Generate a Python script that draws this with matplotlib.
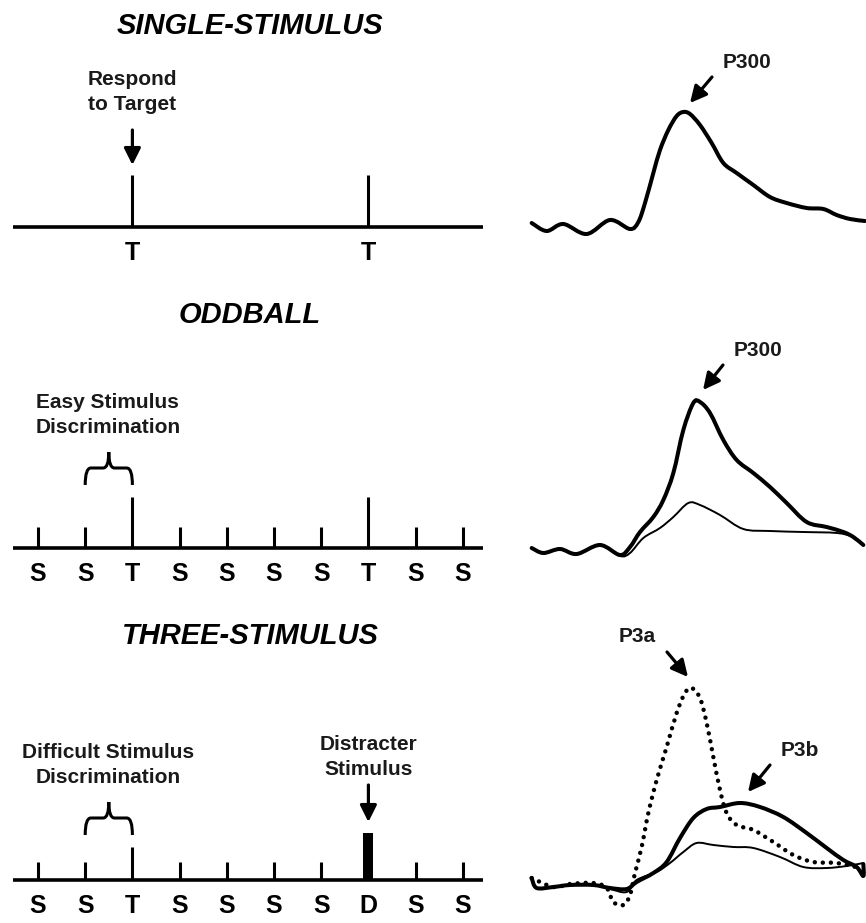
import numpy as np
import matplotlib
matplotlib.use('Agg')
import matplotlib.pyplot as plt
from matplotlib.path import Path
from matplotlib.patches import PathPatch

plt.rcParams['font.family'] = ['Liberation Sans', 'DejaVu Sans']

# stimulus sequences ('' = no stimulus at that slot)
single_seq = ['', '', 'T', '', '', '', '', 'T', '', '']
oddball_seq = ['S', 'S', 'T', 'S', 'S', 'S', 'S', 'T', 'S', 'S']
three_seq = ['S', 'S', 'T', 'S', 'S', 'S', 'S', 'D', 'S', 'S']

# ERP waveforms: time (ms) and amplitude (uV)
single_t = [-101, -56, -6, 64, 134, 194, 219, 239, 264, 284, 309, 334, 354, 374,
            404, 439, 474, 514, 564, 614, 664, 724, 774, 814, 854, 899]
single_amp = [0.4, -0.4, 0.3, -0.7, 0.7, -0.2, 0.5, 2.4, 5.4, 7.7, 9.7, 11.1, 11.5, 11.3,
              10.2, 8.4, 6.4, 5.4, 4.2, 3.0, 2.4, 1.9, 1.8, 1.2, 0.8, 0.6]

odd_target_t = [-101, -66, -16, 34, 104, 164, 194, 224, 264, 294, 324, 354, 384, 404,
                434, 474, 514, 564, 614, 664, 724, 784, 834, 864, 894]
odd_target_amp = [0.0, -0.5, -0.1, -0.6, 0.3, -0.7, 0.1, 1.6, 3.1, 4.8, 7.5, 11.8, 14.5, 14.6,
                  13.5, 10.8, 8.8, 7.5, 6.1, 4.5, 2.6, 2.1, 1.6, 1.1, 0.3]
odd_standard_t = [-101, -66, -16, 34, 104, 164, 194, 234, 284, 324, 369, 404, 464, 534,
                  614, 714, 814, 864, 894]
odd_standard_amp = [0.0, -0.5, -0.1, -0.6, 0.3, -0.8, -0.5, 1.0, 2.0, 3.1, 4.5, 4.3, 3.3, 1.9,
                    1.7, 1.6, 1.5, 1.1, 0.3]

three_target_t = [-101, -86, -36, 14, 84, 134, 184, 214, 264, 304, 344, 384, 424, 464,
                  524, 584, 654, 724, 784, 834, 874, 894, 894]
three_target_amp = [0.2, -0.8, -0.7, -0.5, -0.5, -0.8, -0.9, -0.2, 0.7, 1.8, 4.2, 6.2, 7.1, 7.3,
                    7.7, 7.3, 6.3, 4.7, 3.2, 2.0, 1.3, 0.4, 1.6]
three_standard_t = [-101, -86, -36, 14, 84, 134, 184, 214, 274, 314, 354, 394, 444, 504,
                    564, 644, 714, 784, 844, 894]
three_standard_amp = [0.2, -0.8, -0.7, -0.5, -0.5, -0.9, -1.2, 0.0, 0.8, 1.7, 2.8, 3.7, 3.5, 3.3,
                      3.2, 2.3, 1.3, 1.2, 1.4, 1.7]
three_distracter_t = [-101, -36, 14, 84, 124, 144, 174, 194, 209, 229, 249, 274, 304, 334,
                      359, 379, 404, 424, 444, 464, 484, 514, 564, 624, 684, 744, 814, 884]
three_distracter_amp = [0.2, -0.7, -0.4, -0.3, -0.8, -2.2, -2.5, -1.5, 0.7, 3.3, 6.7, 10.0, 13.3, 16.7,
                        18.7, 19.2, 18.2, 15.7, 12.3, 9.0, 6.7, 5.5, 5.0, 3.8, 2.5, 1.8, 1.7, 1.2]

W, H = 866, 923
fig = plt.figure(figsize=(W / 100, H / 100), dpi=100)

STEP, X0 = 47.2, 38  # stimulus spacing / first stimulus (px)


def add_ax(x0, y0, x1, y1):
    ax = fig.add_axes([x0 / W, 1 - y1 / H, (x1 - x0) / W, (y1 - y0) / H])
    ax.axis('off')
    return ax


def timeline(y0, y1, base, seq, heights):
    ax = add_ax(0, y0, 500, y1)
    ax.set_xlim(-X0 / STEP, (500 - X0) / STEP)
    ax.set_ylim(base - y1, base - y0)
    ax.plot([-0.53, 9.43], [0, 0], color='k', lw=2.6, solid_capstyle='butt')
    for i, s in enumerate(seq):
        if s == '':
            continue
        if s == 'D':
            ax.bar(i, heights[s], width=0.21, color='k')
        else:
            ax.vlines(i, 0, heights[s], color='k', lw=2.2)
        ax.text(i, -26, s, ha='center', va='center', fontsize=18, fontweight='bold')
    return ax


def brace(ax, i0, i1, yb, ym, yt):
    xm = (i0 + i1) / 2
    r = 0.12
    verts = [(i0, yb), (i0, ym), (i0 + r, ym), (xm - r, ym), (xm, ym), (xm, yt),
             (xm, yt), (xm, ym), (xm + r, ym), (i1 - r, ym), (i1, ym), (i1, yb)]
    codes = [Path.MOVETO, Path.CURVE3, Path.CURVE3, Path.LINETO, Path.CURVE3, Path.CURVE3,
             Path.MOVETO, Path.CURVE3, Path.CURVE3, Path.LINETO, Path.CURVE3, Path.CURVE3]
    ax.add_patch(PathPatch(Path(verts, codes), fill=False, lw=2.2, color='k',
                           capstyle='butt', joinstyle='round'))


def arrow(ax, start, end):
    ax.annotate('', xy=end, xytext=start,
                arrowprops=dict(arrowstyle='-|>,head_length=0.5,head_width=0.25',
                                mutation_scale=20, lw=2.3, color='k',
                                shrinkA=0, shrinkB=0))


def erp_ax(y0, y1, base):
    ax = add_ax(520, y0, 866, y1)
    ax.set_xlim((520 - 532) * 3 - 100, (866 - 532) * 3 - 100)
    ax.set_ylim((base - y1) / 10, (base - y0) / 10)
    return ax


def wave(ax, t, amp, **kw):
    # smooth curve through the read points (Catmull-Rom as cubic Bezier segments)
    p = np.column_stack([t, amp]).astype(float)
    p = np.vstack([p[0], p, p[-1]])
    verts = [tuple(p[1])]
    codes = [Path.MOVETO]
    for k in range(1, len(p) - 2):
        c1 = p[k] + (p[k + 1] - p[k - 1]) / 6
        c2 = p[k + 1] - (p[k + 2] - p[k]) / 6
        verts += [tuple(c1), tuple(c2), tuple(p[k + 1])]
        codes += [Path.CURVE4] * 3
    ax.add_patch(PathPatch(Path(verts, codes), fill=False, color='k',
                           joinstyle='round', **kw))


small = dict(ha='center', va='center', fontsize=15, fontweight='bold',
             linespacing=1.45, color='#1a1a1a')
title = dict(ha='center', va='center', fontsize=21, fontweight='bold', fontstyle='italic')

# --- single-stimulus ---
fig.text(250 / W, 1 - 26 / H, 'SINGLE-STIMULUS', **title)
ax = timeline(0, 280, 227, single_seq, {'T': 52})
ax.text(2, 135, 'Respond\nto Target', **small)
arrow(ax, (2, 97), (2, 62))

ax = erp_ax(0, 280, 227)
wave(ax, single_t, single_amp, lw=2.9, capstyle='round')
ax.text(545, 16.5, 'P300', **small)
arrow(ax, (440, 15.0), (374, 12.4))

# --- oddball ---
fig.text(250 / W, 1 - 315 / H, 'ODDBALL', **title)
ax = timeline(280, 600, 548, oddball_seq, {'S': 21, 'T': 51})
ax.text(1.48, 133, 'Easy Stimulus\nDiscrimination', **small)
brace(ax, 1, 2, 63, 80, 96)

ax = erp_ax(280, 600, 548)
wave(ax, odd_standard_t, odd_standard_amp, lw=1.4)
wave(ax, odd_target_t, odd_target_amp, lw=2.9, capstyle='round')
ax.text(578, 19.8, 'P300', **small)
arrow(ax, (473, 18.3), (413, 15.8))

# --- three-stimulus ---
fig.text(250 / W, 1 - 636 / H, 'THREE-STIMULUS', **title)
ax = timeline(600, 923, 880, three_seq, {'S': 18, 'T': 33, 'D': 47})
ax.text(1.48, 115, 'Difficult Stimulus\nDiscrimination', **small)
brace(ax, 1, 2, 45, 62, 78)
ax.text(7, 123, 'Distracter\nStimulus', **small)
arrow(ax, (7, 95), (7, 58))

ax = erp_ax(600, 923, 880)
wave(ax, three_standard_t, three_standard_amp, lw=1.4)
wave(ax, three_target_t, three_target_amp, lw=2.9, capstyle='round')
wave(ax, three_distracter_t, three_distracter_amp, lw=3.2,
     linestyle=(0, (0.01, 1.8)), capstyle='round')
ax.text(215, 24.3, 'P3a', **small)
arrow(ax, (305, 22.8), (368, 20.3))
ax.text(704, 13.0, 'P3b', **small)
arrow(ax, (614, 11.5), (548, 8.8))

fig.savefig('out.png', dpi=100)
